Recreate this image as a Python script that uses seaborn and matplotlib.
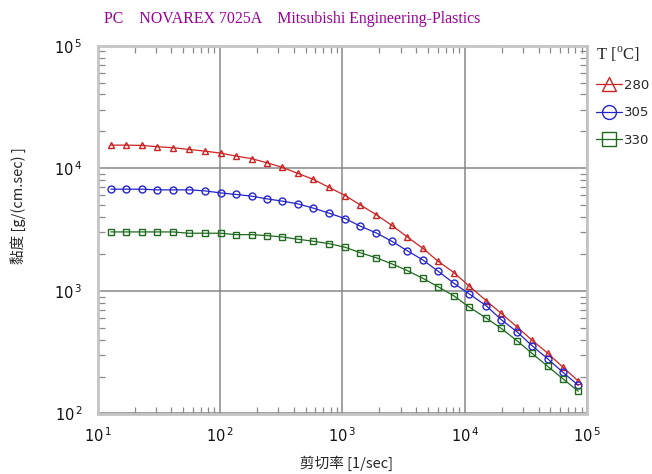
# PC viscosity curves, log-log
import math
import pandas as pd
import matplotlib
matplotlib.use("Agg")
import matplotlib.pyplot as plt
import seaborn as sns
from matplotlib.ticker import FuncFormatter, LogLocator, NullFormatter

# ---- data ----
shear_rate = [12.8, 16.9, 23.1, 30.7, 41.4, 55.3, 74.6, 100.9, 134.6, 180.7,
              239.9, 321.4, 429.5, 575.4, 772.7, 1057, 1400, 1892, 2523, 3365,
              4550, 6026, 8147, 10790, 15000, 19860, 26610, 35320, 47640, 63240, 84530]

visc_280 = [15450, 15450, 15370, 15000, 14720, 14260, 13810, 13310, 12580, 11990,
            11120, 10190, 9110, 8140, 7010, 5980, 5020, 4180, 3430, 2770,
            2220, 1750, 1410, 1100, 830, 655, 510, 397, 310, 239, 184]
visc_305 = [6755, 6755, 6755, 6670, 6670, 6670, 6550, 6300, 6120, 5930,
            5640, 5400, 5135, 4740, 4315, 3880, 3373, 2970, 2545, 2135,
            1785, 1452, 1153, 950, 755, 582, 465, 358, 279, 217, 170]
visc_330 = [3027, 3027, 3027, 3027, 3027, 2954, 2954, 2954, 2877, 2877,
            2825, 2757, 2640, 2543, 2432, 2266, 2045, 1862, 1665, 1469,
            1265, 1083, 910, 741, 599, 494, 393, 310, 242, 192, 152]

temps = ["280", "305", "330"]
colors = ["#cc2222", "#2424cc", "#1f6a1f"]
markers = ["^", "o", "s"]

title = "PC    NOVAREX 7025A    Mitsubishi Engineering-Plastics"

# ---- build long table ----
df = pd.concat([
    pd.DataFrame({"rate": shear_rate, "visc": v, "T": t})
    for t, v in zip(temps, [visc_280, visc_305, visc_330])
])

sns.set_style("white")
plt.rcParams["font.family"] = ["DejaVu Sans"]

W, H = 652, 474
fig = plt.figure(figsize=(W / 100, H / 100), dpi=100)
ax = fig.add_axes([97.7 / W, 1 - 413.5 / H, (587.2 - 97.7) / W, (413.5 - 45.7) / H])

for t, c, m in zip(temps, colors, markers):
    sns.lineplot(data=df[df["T"] == t], x="rate", y="visc", ax=ax,
                 color=c, marker=m, markersize=5, markerfacecolor="none",
                 markeredgecolor=c, markeredgewidth=1.0, linewidth=0.9,
                 label=t)

ax.set_xscale("log")
ax.set_yscale("log")
ax.set_xlim(10, 1e5)
ax.set_ylim(100, 1e5)

# gridlines at decades, minor ticks inside on all sides
ax.grid(which="major", color="#888888", linewidth=1.1)
ax.set_axisbelow(True)
for s in ax.spines.values():
    s.set_color("#c4c4c4")
    s.set_linewidth(2.0)
ax.xaxis.set_minor_locator(LogLocator(base=10, subs=range(2, 10)))
ax.yaxis.set_minor_locator(LogLocator(base=10, subs=range(2, 10)))
ax.xaxis.set_minor_formatter(NullFormatter())
ax.yaxis.set_minor_formatter(NullFormatter())
ax.tick_params(which="minor", direction="in", length=5, width=0.9,
               color="#8a8a8a", top=True, right=True, bottom=True, left=True)
ax.tick_params(which="major", length=0)

fmt = FuncFormatter(lambda v, p: r"$10^{\,%d}$" % round(math.log10(v)))
ax.xaxis.set_major_formatter(fmt)
ax.yaxis.set_major_formatter(fmt)
ax.tick_params(axis="x", which="major", pad=9, labelsize=10.5, colors="#111111")
ax.tick_params(axis="y", which="major", pad=11, labelsize=10.5, colors="#111111")
ax.set_xlabel("")
ax.set_ylabel("")

# labels
fig.text(104 / W, 1 - 19 / H, title, color="#990099", fontsize=11.4,
         family=["Liberation Serif"], ha="left", va="center")
fig.text(346 / W, 1 - 463 / H, "剪切率 [1/sec]", fontsize=10.5,
         family=["Noto Sans CJK TC", "DejaVu Sans"], ha="center", va="center")
fig.text(18 / W, 1 - 206 / H, "黏度 [g/(cm.sec) ]", fontsize=10.5, rotation=90,
         family=["Noto Sans CJK TC", "DejaVu Sans"], ha="center", va="center")

leg = ax.legend(loc="upper left", bbox_to_anchor=(596 / W, 1 - 45 / H),
                bbox_transform=fig.transFigure, frameon=False,
                title=r"T [$^{\mathregular{o}}$C]", markerscale=2.0,
                handlelength=2.0, handletextpad=0.1, labelspacing=1.1,
                borderaxespad=0, borderpad=0, fontsize=9.5)
leg.get_title().set_fontsize(12)
leg.get_title().set_family(["Liberation Serif"])
leg._legend_box.align = "left"

fig.savefig("out.png", dpi=100)
